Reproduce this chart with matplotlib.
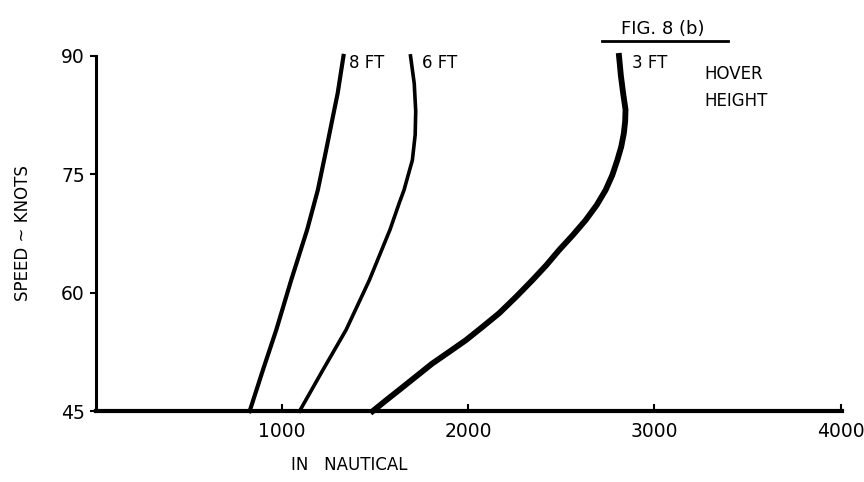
import numpy as np
import matplotlib.pyplot as plt

# curves: speed (knots) vs distance
speed_8ft = [45, 50.2, 55.3, 61.6, 68.0, 73.0, 78.1, 82.3, 85.3, 90]
dist_8ft = [826, 897, 969, 1049, 1135, 1192, 1237, 1273, 1299, 1330]

speed_6ft = [45, 50.2, 55.3, 61.6, 68.0, 71.4, 73.0, 76.8, 80.0, 83.0, 86.5, 90]
dist_6ft = [1094, 1219, 1344, 1469, 1580, 1630, 1655, 1700, 1715, 1718, 1710, 1690]

speed_3ft = [45, 46.3, 47.7, 49.3, 51.0, 52.5, 54.0, 55.7, 57.4, 59.5, 61.6, 63.5,
             65.4, 67.3, 69.2, 71.1, 73.0, 74.9, 76.8, 78.5, 80.2, 81.7, 83.2, 85.3, 87.5, 90]
dist_3ft = [1487, 1555, 1630, 1715, 1805, 1897, 1988, 2078, 2166, 2258, 2345, 2420,
            2488, 2562, 2631, 2690, 2738, 2774, 2801, 2822, 2836, 2843, 2845, 2832, 2820, 2810]

x_ticks = [1000, 2000, 3000, 4000]
y_ticks = [45, 60, 75, 90]

plt.rcParams['font.family'] = ['DejaVu Sans']

fig = plt.figure(figsize=(8.64, 4.82), dpi=100)
ax = fig.add_axes([0.111, 0.147, 0.864, 0.737])

ax.plot(dist_8ft, speed_8ft, color='black', lw=3.0, solid_joinstyle='round', clip_on=False)
ax.plot(dist_6ft, speed_6ft, color='black', lw=2.6, solid_joinstyle='round', clip_on=False)
ax.plot(dist_3ft, speed_3ft, color='black', lw=4.2, solid_joinstyle='round', clip_on=False)

# curve labels
ax.text(1362, 89.1, "8 FT", fontsize=12, va='center', ha='left')
ax.text(1753, 89.1, "6 FT", fontsize=12, va='center', ha='left')
ax.text(2879, 89.1, "3 FT", fontsize=12, va='center', ha='left')
ax.text(3271, 86.0, "HOVER\nHEIGHT", fontsize=12, va='center', ha='left', linespacing=1.65)

ax.set_xlim(0, 4010)
ax.set_ylim(45, 90)
ax.set_xticks(x_ticks)
ax.set_yticks(y_ticks)
ax.tick_params(axis='x', direction='in', length=5, width=1.5, labelsize=13.5, pad=8)
ax.tick_params(axis='y', direction='out', length=4, width=1.5, labelsize=13.5, pad=4)

for side in ['top', 'right']:
    ax.spines[side].set_visible(False)
ax.spines['bottom'].set_linewidth(3.0)
ax.spines['left'].set_linewidth(2.2)

ax.set_xlabel("IN   NAUTICAL", fontsize=12)
ax.xaxis.set_label_coords(0.34, -0.125)
ax.set_ylabel("SPEED ~ KNOTS", fontsize=12)
ax.yaxis.set_label_coords(-0.085, 0.5)

# figure tag with underline
fig.text(663 / 864, 1 - 29 / 482, "FIG. 8 (b)", fontsize=13, ha='center', va='center')
fig.add_artist(plt.Line2D([602 / 864, 728 / 864], [1 - 41 / 482, 1 - 41 / 482],
                          color='black', lw=2))

fig.savefig("out.png", dpi=100, facecolor='white')
